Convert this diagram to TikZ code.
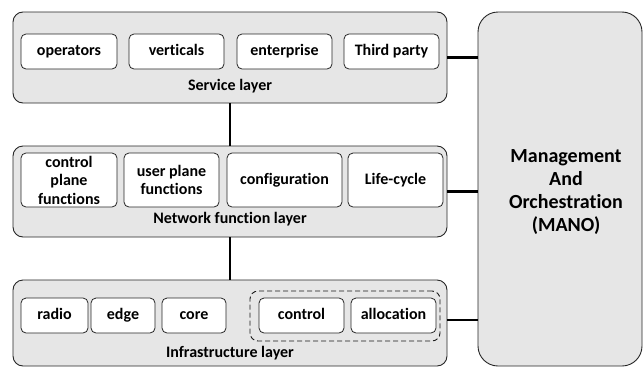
\documentclass[tikz,border=0pt]{standalone}
\usepackage{fontspec}
\setmainfont[Ligatures={NoCommon}]{Carlito}
\definecolor{layergray}{HTML}{E6E6E6}
\begin{document}
\begin{tikzpicture}[x=1pt,y=-1pt,
  layer/.style={draw=black!85, line width=0.9pt, fill=layergray, rounded corners=10pt, inner sep=0pt},
  item/.style={draw=black!85, line width=0.8pt, fill=white, rounded corners=5pt, inner sep=0pt, align=center,
    font=\fontsize{16}{18.5}\selectfont\bfseries},
  oneline/.style={text height=11.5pt, text depth=3.5pt},
  lbl/.style={font=\fontsize{16}{18.5}\selectfont\bfseries, inner sep=0pt},
  link/.style={line width=2.4pt}]
\useasboundingbox (0,0) rectangle (644,367);
% layers
\node[layer, minimum width=434pt, minimum height=91pt] (service) at (230,57.5) {};
\node[layer, minimum width=434pt, minimum height=91pt] (network) at (230,191.5) {};
\node[layer, minimum width=434pt, minimum height=86pt] (infra) at (230,323) {};
\node[layer, rounded corners=20pt, minimum width=164pt, minimum height=354pt] (mano) at (560,189) {};
\node[align=center, inner sep=0pt, font=\fontsize{20}{23}\selectfont\bfseries] (manolbl) at (566,192) {Management\\And\\Orchestration\\(MANO)};
% connectors
\draw[link] (service.south) -- (network.north);
\draw[link] (network.south) -- (infra.north);
\draw[link] (service.east) -- (service.east -| mano.west);
\draw[link] (network.east) -- (network.east -| mano.west);
\draw[link] ([yshift=3pt]infra.east) -- ([yshift=3pt]infra.east -| mano.west);
% service layer
\node[item, oneline, minimum width=96pt, minimum height=35pt] (operators) at (69,51.5) {operators};
\node[item, oneline, minimum width=95pt, minimum height=35pt] (verticals) at (176.5,51.5) {verticals};
\node[item, oneline, minimum width=95pt, minimum height=35pt] (enterprise) at (284.5,51.5) {enterprise};
\node[item, oneline, minimum width=95pt, minimum height=35pt] (third) at (391.5,51.5) {Third party};
\node[lbl] (servicelbl) at (230,86) {Service layer};
% network function layer
\node[item, minimum width=96pt, minimum height=54pt] (cpf) at (69,180) {control\\plane\\functions};
\node[item, minimum width=95pt, minimum height=54pt] (upf) at (171.5,180) {user plane\\functions};
\node[item, oneline, minimum width=115pt, minimum height=54pt] (config) at (284.5,180) {configuration};
\node[item, oneline, minimum width=95pt, minimum height=54pt] (life) at (395.5,180) {Life-cycle};
\node[lbl] (networklbl) at (230,219) {Network function layer};
% infrastructure layer
\node[draw=black!90, line width=0.9pt, dash pattern=on 5pt off 3pt, rounded corners=8pt,
  minimum width=190pt, minimum height=50pt, inner sep=0pt] (group) at (345,316) {};
\node[item, oneline, minimum width=67pt, minimum height=35pt] (radio) at (54.5,315.5) {radio};
\node[item, oneline, minimum width=64pt, minimum height=35pt] (edge) at (123,315.5) {edge};
\node[item, oneline, minimum width=64pt, minimum height=35pt] (core) at (194,315.5) {core};
\node[item, oneline, minimum width=85pt, minimum height=35pt] (control) at (301.5,315.5) {control};
\node[item, oneline, minimum width=85pt, minimum height=35pt] (alloc) at (393.5,315.5) {allocation};
\node[lbl] (infralbl) at (230,353) {Infrastructure layer};
\end{tikzpicture}
\end{document}
